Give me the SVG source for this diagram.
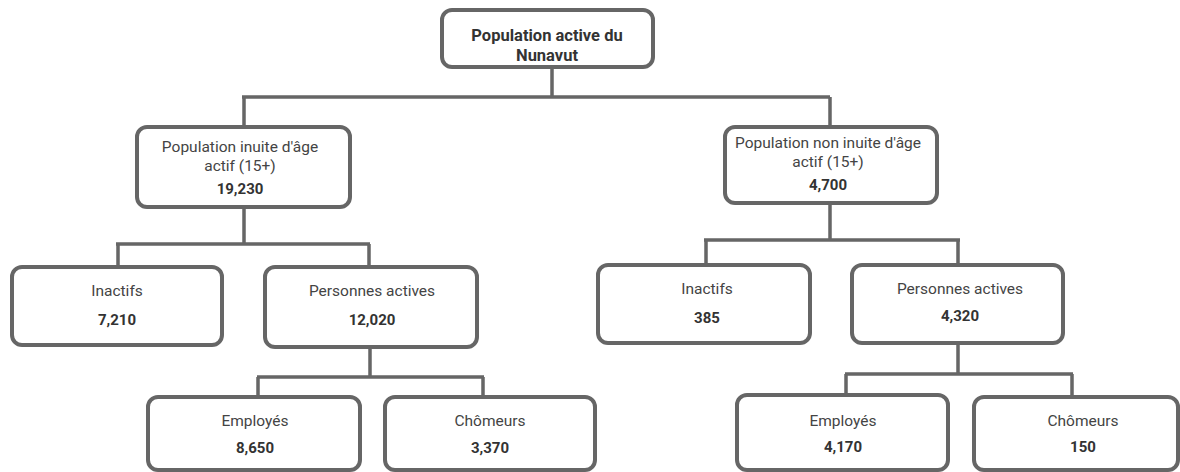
<svg xmlns="http://www.w3.org/2000/svg" width="1180" height="472" viewBox="0 0 1180 472">
<style>
.box{fill:#fff;stroke:#666;stroke-width:4}
.ln{fill:none;stroke:#666;stroke-width:3.5}
.t{font-family:Roboto,"Liberation Sans",sans-serif;font-size:15.5px;fill:#444;text-anchor:middle}
.b{font-family:Roboto,"Liberation Sans",sans-serif;font-size:15px;font-weight:bold;fill:#333;text-anchor:middle}
.h{font-family:Roboto,"Liberation Sans",sans-serif;font-size:16.5px;font-weight:bold;fill:#333;text-anchor:middle}
</style>
<rect width="1180" height="472" fill="#fff"/>
<g id="connectors">
<path class="ln" d="M552 67V97M242 97H830M244 97V127M830 97V127"/>
<path class="ln" d="M244 207V244M116 244H370M118 244V267M369 244V267"/>
<path class="ln" d="M830 203V240M704 240H960M706 240V265M958 240V265"/>
<path class="ln" d="M370 347V377M257 377H484M258 377V397M483 377V397"/>
<path class="ln" d="M958 343V374M845 374H1073M846 374V395M1072 374V397"/>
</g>
<g id="n0"><rect class="box" x="442" y="10" width="211" height="57" rx="10"/>
<text class="h" x="547" y="41">Population active du</text><text class="h" x="547" y="61">Nunavut</text></g>
<g id="n1"><rect class="box" x="137" y="127" width="213" height="80" rx="10"/>
<text class="t" x="240" y="152">Population inuite d'âge</text><text class="t" x="240" y="171">actif (15+)</text><text class="b" x="240" y="194">19,230</text></g>
<g id="n2"><rect class="box" x="725" y="127" width="212" height="76" rx="10"/>
<text class="t" x="828" y="148">Population non inuite d'âge</text><text class="t" x="828" y="167">actif (15+)</text><text class="b" x="828" y="190">4,700</text></g>
<g id="n3"><rect class="box" x="12" y="267" width="210" height="78" rx="10"/>
<text class="t" x="117" y="296">Inactifs</text><text class="b" x="117" y="325">7,210</text></g>
<g id="n4"><rect class="box" x="265" y="267" width="212" height="80" rx="10"/>
<text class="t" x="372" y="296">Personnes actives</text><text class="b" x="372" y="325">12,020</text></g>
<g id="n5"><rect class="box" x="598" y="265" width="212" height="78" rx="10"/>
<text class="t" x="707" y="294">Inactifs</text><text class="b" x="707" y="323">385</text></g>
<g id="n6"><rect class="box" x="852" y="265" width="211" height="78" rx="10"/>
<text class="t" x="960" y="294">Personnes actives</text><text class="b" x="960" y="321">4,320</text></g>
<g id="n7"><rect class="box" x="148" y="397" width="212" height="73" rx="10"/>
<text class="t" x="255" y="426">Employés</text><text class="b" x="255" y="453">8,650</text></g>
<g id="n8"><rect class="box" x="385" y="397" width="210" height="73" rx="10"/>
<text class="t" x="490" y="426">Chômeurs</text><text class="b" x="490" y="453">3,370</text></g>
<g id="n9"><rect class="box" x="737" y="395" width="211" height="75" rx="10"/>
<text class="t" x="843" y="426">Employés</text><text class="b" x="843" y="452">4,170</text></g>
<g id="n10"><rect class="box" x="974" y="397" width="204" height="73" rx="10"/>
<text class="t" x="1083" y="426">Chômeurs</text><text class="b" x="1083" y="452">150</text></g>
</svg>
